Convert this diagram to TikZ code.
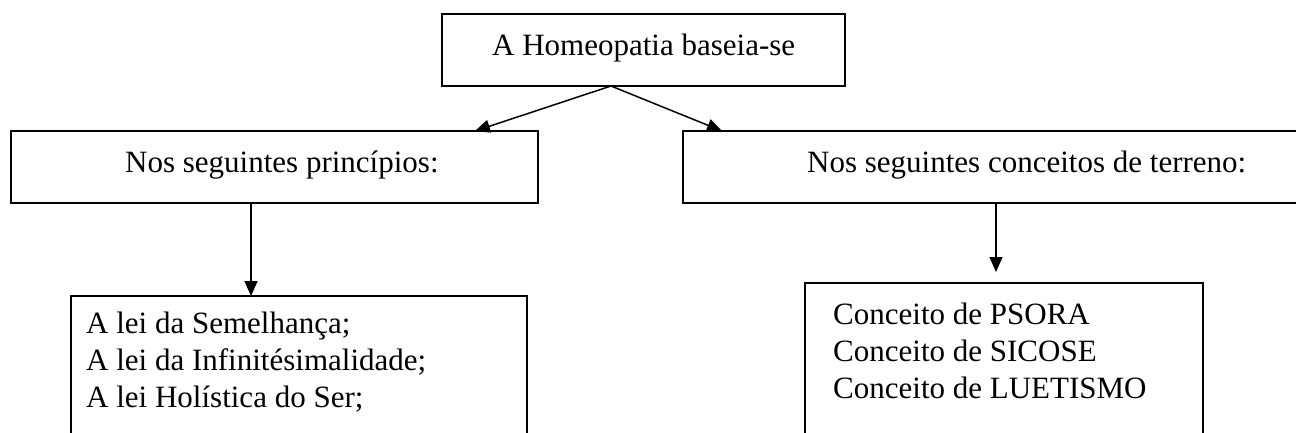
\documentclass[tikz,border=0pt]{standalone}
\usepackage{fontspec}
\setmainfont{Liberation Serif}
\usetikzlibrary{arrows.meta}
\begin{document}
\begin{tikzpicture}[x=1pt,y=-1pt,
  box/.style={draw,line width=1.5pt,inner sep=0pt},
  txt/.style={inner sep=0pt,font=\fontsize{31}{37}\selectfont},
  arr/.style={line width=1.5pt,-{Triangle[length=15pt,width=13pt]}}]
\useasboundingbox (0,0) rectangle (1296,432);
\clip (0,0) rectangle (1296,432);
% boxes
\node[box,minimum width=403pt,minimum height=72pt] (top) at (643.5,50) {};
\node[box,minimum width=527pt,minimum height=72pt] (left) at (274.5,167) {};
\node[box,minimum width=690pt,minimum height=72pt] (right) at (1028,167) {};
\node[box,minimum width=456pt,minimum height=180pt] (bl) at (299,386) {};
\node[box,minimum width=398pt,minimum height=180pt] (br) at (1004,373) {};
% texts
\node[txt,anchor=base west] (toptext) at (492,55) {A Homeopatia baseia-se};
\node[txt,anchor=base west] (lefttext) at (125,172) {Nos seguintes princípios:};
\node[txt,anchor=base west] (righttext) at (807,172) {Nos seguintes conceitos de terreno:};
\node[txt,align=left,anchor=north west] (bltext) at (86,312) {A lei da Semelhança;\\A lei da Infinitésimalidade;\\A lei Holística do Ser;};
\node[txt,align=left,anchor=north west] (brtext) at (833,303) {Conceito de PSORA\\Conceito de SICOSE\\Conceito de LUETISMO};
% connector ends
\coordinate (tstart) at (611,86);
\coordinate (ltip) at (475,131);
\coordinate (rtip) at (722,131);
\coordinate (ldown) at (251,203);
\coordinate (lend) at (251,296);
\coordinate (rdown) at (996,203);
\coordinate (rend) at (996,272);
\draw[arr] (tstart) -- (ltip);
\draw[arr] (tstart) -- (rtip);
\draw[arr] (ldown) -- (lend);
\draw[arr] (rdown) -- (rend);
\end{tikzpicture}
\end{document}
